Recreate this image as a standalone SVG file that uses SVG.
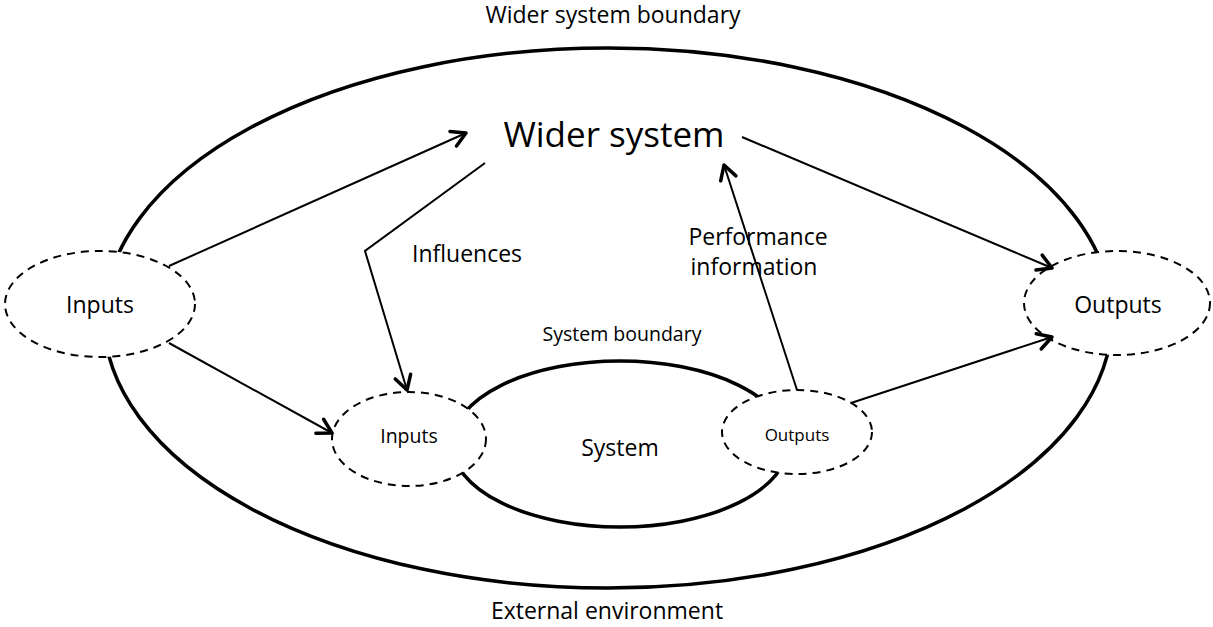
<svg xmlns="http://www.w3.org/2000/svg" width="1213" height="627" viewBox="0 0 1213 627">
  <defs>
    <marker id="arrow" markerUnits="userSpaceOnUse" markerWidth="24" markerHeight="24" viewBox="-20 -12 24 24" refX="0" refY="0" orient="auto">
      <path d="M-14,-8 L0,0 L-14,8" fill="none" stroke="#000" stroke-width="3.5" stroke-linecap="round" stroke-linejoin="round"/>
    </marker>
  </defs>
  <style>
    text { font-family: "Open Sans", "Noto Sans", "DejaVu Sans", sans-serif; fill: #000; text-anchor: middle; }
    .boundary { fill: none; stroke: #000; stroke-width: 3.5; }
    .dashed { fill: #fff; stroke: #000; stroke-width: 2; stroke-dasharray: 8 6; }
    .link { fill: none; stroke: #000; stroke-width: 2; marker-end: url(#arrow); }
  </style>
  <rect width="1213" height="627" fill="#fff"/>

  <!-- wider system boundary -->
  <g id="wider-boundary">
    <ellipse class="boundary" cx="608" cy="318" rx="504" ry="270"/>
    <text x="613" y="23" font-size="23">Wider system boundary</text>
    <text x="607" y="619" font-size="23">External environment</text>
  </g>

  <!-- system boundary -->
  <g id="system">
    <ellipse class="boundary" cx="620" cy="444" rx="168" ry="83" stroke-width="4"/>
    <text x="622" y="341" font-size="19.5">System boundary</text>
    <text x="620" y="456" font-size="23">System</text>
  </g>

  <g id="wider-system">
    <text x="614" y="147" font-size="35">Wider system</text>
  </g>

  <g id="inputs-outer">
    <ellipse class="dashed" cx="100" cy="304" rx="95" ry="53"/>
    <text x="100" y="313" font-size="23">Inputs</text>
  </g>

  <g id="outputs-outer">
    <ellipse class="dashed" cx="1117" cy="303" rx="93" ry="52"/>
    <text x="1118" y="313" font-size="23">Outputs</text>
  </g>

  <g id="inputs-inner">
    <ellipse class="dashed" cx="409" cy="439" rx="77" ry="47"/>
    <text x="409" y="443" font-size="19.5">Inputs</text>
  </g>

  <g id="outputs-inner">
    <ellipse class="dashed" cx="797" cy="432" rx="75" ry="42"/>
    <text x="797" y="441" font-size="17">Outputs</text>
  </g>

  <!-- labels on connectors -->
  <g id="labels">
    <text x="467" y="262" font-size="23">Influences</text>
    <text x="758" y="245" font-size="23">Performance</text>
    <text x="754" y="275" font-size="23">information</text>
  </g>

  <!-- connectors -->
  <g id="connectors">
    <path class="link" d="M169,266 L466,133"/>
    <path class="link" d="M169,343 L332,433"/>
    <path class="link" d="M485,163 L365,251 L407,390"/>
    <path class="link" d="M797,390 L724,165"/>
    <path class="link" d="M742,137 L1052,268"/>
    <path class="link" d="M851,403 L1052,337"/>
  </g>
</svg>
